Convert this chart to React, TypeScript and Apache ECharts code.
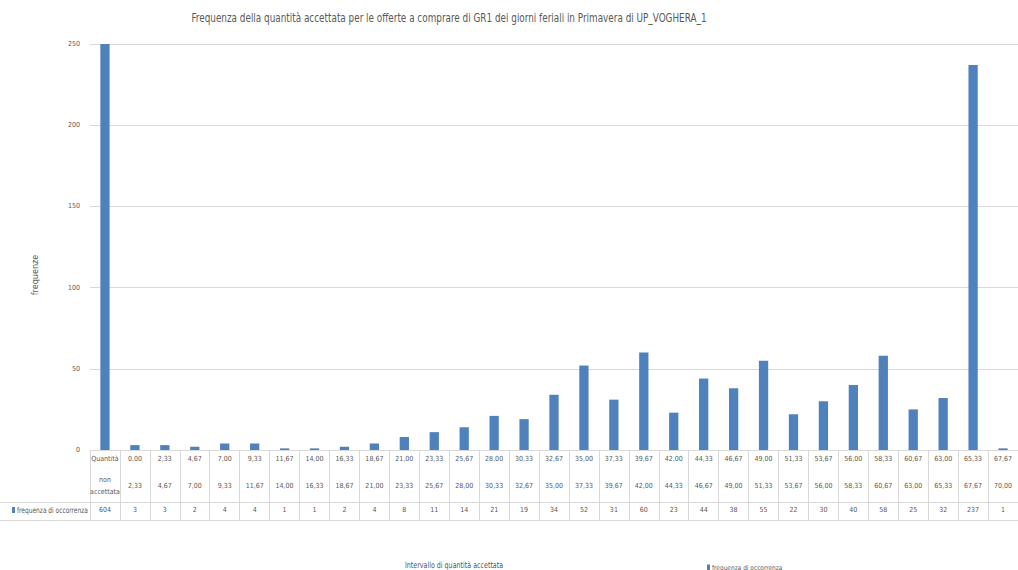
import React, { useEffect, useRef } from "react";
import * as echarts from "echarts";

const title =
  "Frequenza della quantità accettata per le offerte a comprare di GR1 dei giorni feriali in Primavera di UP_VOGHERA_1";
const seriesName = "frequenza di occorrenza";
const xTitle = "Intervallo di quantità accettata";
const yTitle = "frequenze";

const intervalStart = [
  "Quantità", "0,00", "2,33", "4,67", "7,00", "9,33", "11,67", "14,00", "16,33", "18,67", "21,00",
  "23,33", "25,67", "28,00", "30,33", "32,67", "35,00", "37,33", "39,67", "42,00", "44,33",
  "46,67", "49,00", "51,33", "53,67", "56,00", "58,33", "60,67", "63,00", "65,33", "67,67",
];
const intervalEnd = [
  "non\naccettata", "2,33", "4,67", "7,00", "9,33", "11,67", "14,00", "16,33", "18,67", "21,00", "23,33",
  "25,67", "28,00", "30,33", "32,67", "35,00", "37,33", "39,67", "42,00", "44,33", "46,67",
  "49,00", "51,33", "53,67", "56,00", "58,33", "60,67", "63,00", "65,33", "67,67", "70,00",
];
const values = [
  604, 3, 3, 2, 4, 4, 1, 1, 2, 4, 8, 11, 14, 21, 19, 34, 52, 31, 60, 23, 44, 38, 55, 22, 30, 40, 58, 25,
  32, 237, 1,
];
const yMin = 0;
const yMax = 250;
const yStep = 50;

const FONT = "'Liberation Sans Narrow', 'DejaVu Sans Condensed', 'Arial Narrow', sans-serif";
const TXT = "#595959";
const LINE = "#d9d9d9";
const BLUE = "#4F81BD";
const TABLE_FS = 7;

export default function App() {
  const ref = useRef<HTMLDivElement>(null);
  useEffect(() => {
    if (!ref.current) return;
    const chart = echarts.init(ref.current, undefined, { renderer: "svg" });
    const cats = intervalStart.map((_, i) => String(i));
    const baseX = {
      type: "category",
      data: cats,
      position: "bottom",
      boundaryGap: true,
    };
    chart.setOption({
      animation: false,
      textStyle: { fontFamily: FONT },
      legend: {
        data: [seriesName],
        left: 702,
        top: 559,
        itemWidth: 3,
        itemHeight: 6,
        itemGap: 2,
        icon: "rect",
        textStyle: { fontFamily: FONT, fontSize: 6.5, color: TXT, padding: [0, 0, 0, -3] },
      },
      grid: { left: 90, top: 44, bottom: 120, right: -17, containLabel: false },
      yAxis: {
        type: "value",
        min: yMin,
        max: yMax,
        interval: yStep,
        axisLine: { show: false },
        axisTick: { show: false },
        splitLine: { lineStyle: { color: LINE, width: 1 } },
        axisLabel: { fontFamily: FONT, fontSize: 7, color: TXT, margin: 10 },
      },
      xAxis: [
        {
          ...baseX,
          axisLine: { show: true, lineStyle: { color: LINE } },
          axisTick: { show: true, length: 70, interval: 0, lineStyle: { color: LINE } },
          axisLabel: {
            interval: 0,
            formatter: (_v: string, i: number) => intervalStart[i],
            fontFamily: FONT,
            fontSize: TABLE_FS,
            color: TXT,
            margin: 5,
          },
        },
        {
          ...baseX,
          offset: 0,
          axisLine: { show: false },
          axisTick: { show: false },
          axisLabel: {
            interval: 0,
            formatter: (_v: string, i: number) => intervalEnd[i],
            fontFamily: FONT,
            fontSize: TABLE_FS,
            lineHeight: 12,
            color: TXT,
            margin: 36,
            verticalAlign: "middle",
          },
        },
        {
          ...baseX,
          offset: 52,
          axisLine: { show: true, lineStyle: { color: LINE } },
          axisTick: { show: false },
          axisLabel: {
            interval: 0,
            formatter: (_v: string, i: number) => String(values[i]),
            fontFamily: FONT,
            fontSize: TABLE_FS,
            color: TXT,
            margin: 8,
            verticalAlign: "middle",
          },
        },
        {
          ...baseX,
          offset: 70,
          axisLine: { show: true, lineStyle: { color: LINE } },
          axisTick: { show: false },
          axisLabel: { show: false },
        },
      ],
      series: [
        {
          name: seriesName,
          type: "bar",
          data: values,
          xAxisIndex: 0,
          barWidth: "31%",
          itemStyle: { color: BLUE },
          clip: true,
        },
      ],
      graphic: [
        {
          type: "text",
          x: 449,
          y: 18,
          scaleX: 0.82,
          style: {
            text: title,
            fontFamily: FONT,
            fontSize: 12,
            fill: TXT,
            align: "center",
            verticalAlign: "middle",
          },
        },
        { type: "line", shape: { x1: 0, y1: 502.5, x2: 90, y2: 502.5 }, style: { stroke: LINE, lineWidth: 1 } },
        { type: "line", shape: { x1: 0, y1: 520.5, x2: 90, y2: 520.5 }, style: { stroke: LINE, lineWidth: 1 } },
        { type: "rect", shape: { x: 12, y: 507, width: 3, height: 6 }, style: { fill: BLUE } },
        {
          type: "text",
          x: 17,
          y: 510,
          scaleX: 0.82,
          style: { text: seriesName, fontFamily: FONT, fontSize: 8, fill: TXT, verticalAlign: "middle" },
        },
        {
          type: "text",
          x: 35,
          y: 275,
          rotation: Math.PI / 2,
          style: {
            text: yTitle,
            fontFamily: FONT,
            fontSize: 9,
            fill: TXT,
            align: "center",
            verticalAlign: "middle",
          },
        },
        {
          type: "text",
          x: 454,
          y: 565,
          scaleX: 0.83,
          style: {
            text: xTitle,
            fontFamily: FONT,
            fontSize: 8.5,
            fill: TXT,
            align: "center",
            verticalAlign: "middle",
          },
        },
      ],
    });
    return () => chart.dispose();
  }, []);
  return (
    <div style={{ position: "fixed", left: 0, top: 0, width: 1018, height: 570, overflow: "hidden", background: "#fff" }}>
      <div ref={ref} style={{ width: 1018, height: 570 }} />
    </div>
  );
}
